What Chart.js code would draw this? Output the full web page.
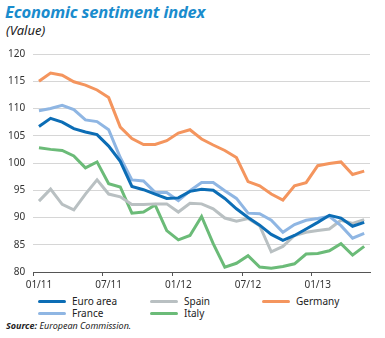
<!DOCTYPE html>
<html>
<head>
<meta charset="utf-8">
<script src="https://cdn.jsdelivr.net/npm/chart.js@4.4.1/dist/chart.umd.min.js"></script>
<style>
  body { margin: 0; background: #fff; font-family: "Noto Sans", sans-serif; }
  #wrap { position: relative; width: 385px; height: 338px; overflow: hidden; }
  #title { position: absolute; left: 5px; top: 0px; font-size: 16.5px; font-weight: bold; font-style: italic; color: #1a8ccd; letter-spacing: -0.2px; }
  #subtitle { position: absolute; left: 6px; top: 21px; font-size: 13px; font-style: italic; color: #222; }
  #chartBox { position: absolute; left: 0; top: 40px; width: 385px; height: 254px; }
  .leg { position: absolute; font-size: 10px; color: #222; line-height: 12px; }
  .leg span { display: inline-block; width: 28px; height: 3px; border-radius: 2px; vertical-align: middle; margin-right: 6px; position: relative; top: -1px; }
  #source { position: absolute; left: 6px; top: 319px; font-size: 9px; font-style: italic; color: #222; }
</style>
</head>
<body>
<div id="wrap">
  <div id="title">Economic sentiment index</div>
  <div id="subtitle">(Value)</div>
  <div id="chartBox"><canvas id="sentimentChart"></canvas></div>
  <div id="legend"></div>
  <div id="source"><b>Source:</b> European Commission.</div>
</div>
<script>
// Months 01/11 .. 05/13
const months = ['01/11', '02/11', '03/11', '04/11', '05/11', '06/11', '07/11', '08/11', '09/11', '10/11', '11/11', '12/11',
                '01/12', '02/12', '03/12', '04/12', '05/12', '06/12', '07/12', '08/12', '09/12', '10/12', '11/12', '12/12',
                '01/13', '02/13', '03/13', '04/13', '05/13'];

const euroArea = [106.7, 108.2, 107.5, 106.3, 105.7, 105.2, 103.1, 100.3, 95.7, 95.1, 94.3, 93.5,
                  93.6, 94.8, 95.2, 95.0, 93.5, 91.6, 90.0, 88.6, 86.9, 85.8, 86.7, 87.9,
                  89.1, 90.4, 89.9, 88.4, 89.1];
const france = [109.6, 110.0, 110.6, 109.8, 107.9, 107.6, 106.1, 101.0, 96.9, 96.7, 94.6, 94.6,
                93.1, 94.9, 96.4, 96.4, 94.9, 93.5, 90.8, 90.7, 89.5, 87.3, 88.7, 89.5,
                89.8, 90.2, 88.5, 86.2, 87.1];
const spain = [93.0, 95.2, 92.4, 91.4, 94.3, 96.9, 94.3, 93.8, 92.4, 92.4, 92.5, 92.5,
               91.0, 92.6, 92.5, 91.6, 89.9, 89.3, 89.8, 88.5, 83.7, 84.7, 86.7, 87.3,
               87.6, 87.9, 89.5, 88.9, 89.6];
const italy = [102.8, 102.5, 102.3, 101.3, 99.1, 100.2, 96.2, 95.6, 90.8, 91.0, 92.3, 87.6,
               85.9, 86.7, 90.2, 85.2, 80.9, 81.6, 83.0, 80.9, 80.7, 81.0, 81.5, 83.3,
               83.4, 83.9, 85.2, 83.1, 84.7];
const germany = [115.0, 116.5, 116.1, 114.9, 114.3, 113.4, 112.0, 106.6, 104.5, 103.4, 103.4, 104.1,
                 105.5, 106.1, 104.4, 103.3, 102.3, 101.0, 96.6, 95.8, 94.3, 93.2, 95.8, 96.4,
                 99.5, 99.9, 100.2, 97.9, 98.5];

const yTicks = [80, 85, 90, 95, 100, 105, 110, 115, 120];

const seriesNames = ['Euro area', 'France', 'Spain', 'Italy', 'Germany'];
const seriesData = [euroArea, france, spain, italy, germany];
const seriesColors = ['#0c6db5', '#8fb6e3', '#b9c0c2', '#6bbb78', '#f4955e'];

// legend: three columns, filled top to bottom
const legendPos = [[38, 295], [38, 307], [150, 295], [150, 307], [262, 295]];
const legendEl = document.getElementById('legend');
seriesNames.forEach(function(name, i) {
    const d = document.createElement('div');
    d.className = 'leg';
    d.style.left = legendPos[i][0] + 'px';
    d.style.top = legendPos[i][1] + 'px';
    d.innerHTML = '<span style="background:' + seriesColors[i] + '"></span>' + name;
    legendEl.appendChild(d);
});

const ctx = document.getElementById('sentimentChart').getContext('2d');
new Chart(ctx, {
    type: 'line',
    data: {
        labels: months,
        datasets: seriesNames.map(function(name, i) {
            return {
                label: name,
                data: seriesData[i],
                borderColor: seriesColors[i],
                backgroundColor: seriesColors[i],
                borderWidth: 3,
                pointRadius: 0,
                tension: 0,
                fill: false
            };
        })
    },
    options: {
        responsive: true,
        maintainAspectRatio: false,
        animation: false,
        layout: { padding: { left: 0, right: 15, top: 6, bottom: 0 } },
        plugins: {
            legend: { display: false },
            tooltip: { enabled: false }
        },
        scales: {
            y: {
                min: 80,
                max: 120,
                afterBuildTicks: function(axis) {
                    axis.ticks = yTicks.map(function(v) { return { value: v }; });
                },
                ticks: {
                    color: '#333',
                    font: { family: 'Noto Sans', size: 10 },
                    padding: 8
                },
                border: { display: false },
                grid: {
                    color: function(c) { return c.tick && c.tick.value === 80 ? 'transparent' : '#d6d6d6'; },
                    drawTicks: false,
                    lineWidth: 1
                }
            },
            x: {
                offset: true,
                ticks: {
                    autoSkip: false,
                    maxRotation: 0,
                    color: '#333',
                    font: { family: 'Noto Sans', size: 10 },
                    padding: 3,
                    callback: function(value, index) {
                        return index % 6 === 0 ? months[index] : '';
                    }
                },
                border: { display: true, color: '#555', width: 1 },
                grid: {
                    offset: true,
                    drawOnChartArea: false,
                    tickLength: 4,
                    tickColor: function(c) { return c.index % 6 === 0 ? '#555' : 'transparent'; }
                }
            }
        }
    }
});
</script>
</body>
</html>
